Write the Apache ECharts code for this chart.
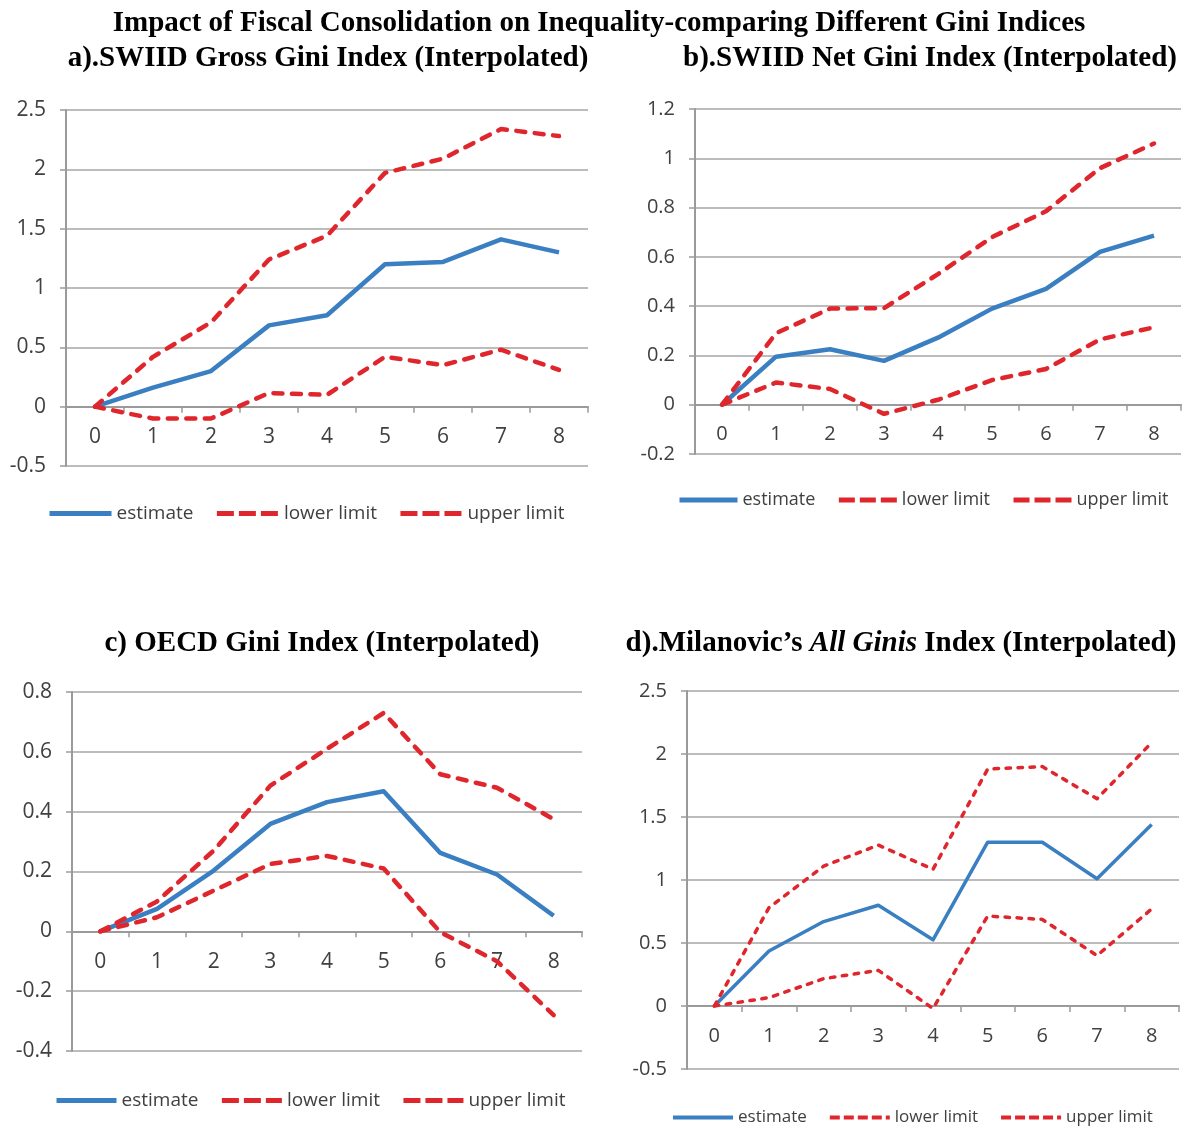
<!DOCTYPE html>
<html>
<head>
<meta charset="utf-8">
<script src="https://cdn.jsdelivr.net/npm/echarts@6/dist/echarts.min.js"></script>
<style>
html,body{margin:0;padding:0;background:#fff;}
#chart{width:1187px;height:1128px;}
</style>
</head>
<body>
<div id="chart"></div>
<script>
const categories = ['0','1','2','3','4','5','6','7','8'];

const grossEstimate = [0, 0.16, 0.30, 0.685, 0.77, 1.20, 1.22, 1.41, 1.30];
const grossLower    = [0, -0.10, -0.10, 0.115, 0.10, 0.42, 0.35, 0.48, 0.31];
const grossUpper    = [0, 0.42, 0.71, 1.24, 1.44, 1.97, 2.09, 2.34, 2.28];

const netEstimate = [0, 0.195, 0.225, 0.178, 0.272, 0.39, 0.47, 0.62, 0.686];
const netLower    = [0, 0.09, 0.064, -0.037, 0.02, 0.10, 0.145, 0.265, 0.314];
const netUpper    = [0, 0.29, 0.39, 0.392, 0.53, 0.68, 0.785, 0.96, 1.06];

const oecdEstimate = [0, 0.075, 0.203, 0.359, 0.432, 0.468, 0.262, 0.19, 0.052];
const oecdLower    = [0, 0.047, 0.136, 0.225, 0.252, 0.21, -0.003, -0.10, -0.28];
const oecdUpper    = [0, 0.10, 0.27, 0.487, 0.61, 0.73, 0.525, 0.48, 0.375];

const milEstimate = [0, 0.436, 0.67, 0.80, 0.525, 1.30, 1.30, 1.01, 1.44];
const milLower    = [0, 0.066, 0.217, 0.283, -0.02, 0.714, 0.687, 0.40, 0.77];
const milUpper    = [0, 0.78, 1.11, 1.277, 1.085, 1.88, 1.90, 1.645, 2.09];

const seriesNames = ['estimate', 'lower limit', 'upper limit'];

const yRanges = [
  {min: -0.5, max: 2.5, interval: 0.5},
  {min: -0.2, max: 1.2, interval: 0.2},
  {min: -0.4, max: 0.8, interval: 0.2},
  {min: -0.5, max: 2.5, interval: 0.5}
];

const BLUE = '#3a7fc1';
const RED = '#df262c';
const LABEL = '#404040';
const FONT = '"Open Sans", Lato, sans-serif';
const SERIF = '"Liberation Serif", "DejaVu Serif", serif';

const grids = [
  {left: 66, right: 599, top: 110, bottom: 662},
  {left: 695, right: 6, top: 109, bottom: 674},
  {left: 72, right: 605, top: 692, bottom: 77},
  {left: 687, right: 8, top: 691, bottom: 59}
];
const labelSizes = [21, 20, 21, 20];

// move the category axis up to the zero line of each panel
function zeroOffset(i) {
  const g = grids[i];
  const h = 1128 - g.top - g.bottom;
  const r = yRanges[i];
  return -h * (0 - r.min) / (r.max - r.min);
}

const xAxes = grids.map((g, i) => ({
  type: 'category',
  gridIndex: i,
  data: categories,
  boundaryGap: true,
  position: 'bottom',
  offset: zeroOffset(i),
  axisLine: {show: true, onZero: false, lineStyle: {color: '#9a9a9a', width: 2}},
  axisTick: {show: true, inside: false, length: 6, alignWithLabel: false, lineStyle: {color: '#9a9a9a', width: 1.5}},
  axisLabel: {color: LABEL, fontSize: labelSizes[i], fontFamily: FONT, margin: 20},
  splitLine: {show: false}
}));

const yAxes = grids.map((g, i) => ({
  type: 'value',
  gridIndex: i,
  min: yRanges[i].min,
  max: yRanges[i].max,
  interval: yRanges[i].interval,
  axisLine: {show: true, lineStyle: {color: '#9a9a9a', width: 2}},
  axisTick: {show: true, length: 6, lineStyle: {color: '#9a9a9a', width: 1.5}},
  axisLabel: {color: LABEL, fontSize: labelSizes[i], fontFamily: FONT, margin: 20},
  splitLine: {show: true, lineStyle: {color: '#a6a6a6', width: 1.6}}
}));

const panelData = [
  [grossEstimate, grossLower, grossUpper],
  [netEstimate, netLower, netUpper],
  [oecdEstimate, oecdLower, oecdUpper],
  [milEstimate, milLower, milUpper]
];
const panelKeys = ['a', 'b', 'c', 'd'];

const series = [];
panelData.forEach((arrs, p) => {
  arrs.forEach((arr, k) => {
    const dashed = k > 0;
    const col = dashed ? RED : BLUE;
    series.push({
      name: panelKeys[p] + '|' + seriesNames[k],
      type: 'line',
      xAxisIndex: p,
      yAxisIndex: p,
      data: arr,
      symbol: 'none',
      silent: true,
      z: dashed ? 3 : 2,
      itemStyle: {color: col},
      lineStyle: {
        color: col,
        width: p === 3 ? 3.5 : 4.5,
        type: dashed ? (p === 3 ? [4.5, 7.5] : [9, 9.5]) : 'solid',
        cap: dashed ? 'round' : 'butt',
        join: 'round'
      }
    });
  });
});

const legendPos = [
  {left: 47, top: 504, size: 19, w: 62, dash: [17, 5]},
  {left: 677, top: 491, size: 18, w: 58, dash: [16, 5]},
  {left: 54, top: 1091, size: 19, w: 60, dash: [17, 5]},
  {left: 671, top: 1109, size: 17, w: 60, dash: [10, 4]}
];
const legends = legendPos.map((lp, p) => ({
  left: lp.left,
  top: lp.top,
  padding: 0,
  orient: 'horizontal',
  data: seriesNames.map(n => ({
    name: panelKeys[p] + '|' + n,
    lineStyle: n === 'estimate' ? {type: 'solid'} : {type: lp.dash}
  })),
  itemWidth: lp.w,
  itemHeight: 14,
  itemGap: 21,
  selectedMode: false,
  itemStyle: {opacity: 0},
  lineStyle: {width: p === 3 ? 4 : 5, cap: 'butt'},
  formatter: name => name.split('|')[1],
  textStyle: {color: LABEL, fontSize: lp.size, fontFamily: FONT}
}));

const titleStyle = {fontFamily: SERIF, fontWeight: 'bold', fontSize: 29, fill: '#000', align: 'center', verticalAlign: 'middle'};

const option = {
  backgroundColor: '#fff',
  animation: false,
  grid: grids,
  xAxis: xAxes,
  yAxis: yAxes,
  series: series,
  legend: legends,
  graphic: [
    {type: 'text', x: 599, y: 24, style: Object.assign({}, titleStyle, {text: 'Impact of Fiscal Consolidation on Inequality-comparing Different Gini Indices'})},
    {type: 'text', x: 328, y: 59, style: Object.assign({}, titleStyle, {text: 'a).SWIID Gross Gini Index (Interpolated)'})},
    {type: 'text', x: 930, y: 59, style: Object.assign({}, titleStyle, {text: 'b).SWIID Net Gini Index (Interpolated)'})},
    {type: 'text', x: 322, y: 644, style: Object.assign({}, titleStyle, {text: 'c) OECD Gini Index (Interpolated)'})},
    {type: 'text', x: 901, y: 644, style: Object.assign({}, titleStyle, {
      text: '{n|d).Milanovic\u2019s }{i|All Ginis}{n| Index (Interpolated)}',
      rich: {
        n: {fontFamily: SERIF, fontWeight: 'bold', fontSize: 29, color: '#000'},
        i: {fontFamily: SERIF, fontWeight: 'bold', fontStyle: 'italic', fontSize: 29, color: '#000'}
      }
    })}
  ]
};

const chart = echarts.init(document.getElementById('chart'), null, {renderer: 'canvas'});
chart.setOption(option);
</script>
</body>
</html>
